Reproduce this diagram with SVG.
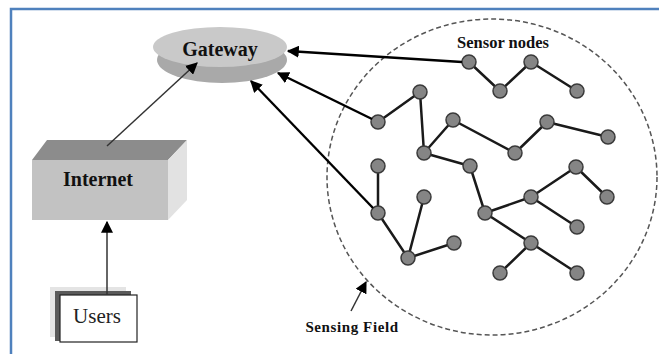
<svg xmlns="http://www.w3.org/2000/svg" width="659" height="354" viewBox="0 0 659 354">
  <defs>
    <marker id="head" viewBox="0 0 10 10" refX="9" refY="5" markerWidth="5" markerHeight="5" markerUnits="strokeWidth" orient="auto">
      <path d="M0,0 L10,5 L0,10 z" fill="#000"/>
    </marker>
    <marker id="headThin" viewBox="0 0 10 10" refX="9" refY="5" markerWidth="8" markerHeight="8" markerUnits="strokeWidth" orient="auto">
      <path d="M0,0 L10,5 L0,10 z" fill="#000"/>
    </marker>
  </defs>
  <style>
    .frame { stroke: #4f81bd; stroke-width: 2.5; fill: none; }
    .link { stroke: #1a1a1a; stroke-width: 2.5; stroke-linecap: round; fill: none; }
    .sensor { fill: #858585; stroke: #3a3a3a; stroke-width: 1.5; }
    .uplink { stroke: #000; stroke-width: 2.4; fill: none; marker-end: url(#head); }
    .thin { stroke: #333; stroke-width: 1.5; fill: none; marker-end: url(#headThin); }
    .bold { font-family: "Liberation Serif", "Times New Roman", serif; font-weight: bold; fill: #111; }
    .plain { font-family: "Liberation Serif", "Times New Roman", serif; fill: #222; }
  </style>

  <rect width="659" height="354" fill="#fff"/>
  <!-- page frame -->
  <path class="frame" d="M11,354 L11,9 L659,9"/>

  <!-- sensing field boundary -->
  <g id="sensing-field">
    <ellipse cx="492" cy="177" rx="165" ry="158" fill="none" stroke="#555" stroke-width="1.5" stroke-dasharray="5 3"/>
    <text class="bold" x="352" y="332" font-size="15" text-anchor="middle" letter-spacing="0.6">Sensing Field</text>
  </g>

  <!-- links between sensor nodes -->
  <g id="sensor-links">
    <line class="link" x1="469" y1="62" x2="500" y2="91"/>
    <line class="link" x1="500" y1="91" x2="531" y2="62"/>
    <line class="link" x1="531" y1="62" x2="577" y2="91"/>
    <line class="link" x1="378" y1="122" x2="420" y2="92"/>
    <line class="link" x1="420" y1="92" x2="424" y2="153"/>
    <line class="link" x1="424" y1="153" x2="453" y2="120"/>
    <line class="link" x1="453" y1="120" x2="515" y2="153"/>
    <line class="link" x1="515" y1="153" x2="547" y2="122"/>
    <line class="link" x1="547" y1="122" x2="608" y2="137"/>
    <line class="link" x1="424" y1="153" x2="470" y2="166"/>
    <line class="link" x1="470" y1="166" x2="485" y2="213"/>
    <line class="link" x1="485" y1="213" x2="531" y2="197"/>
    <line class="link" x1="531" y1="197" x2="576" y2="167"/>
    <line class="link" x1="576" y1="167" x2="607" y2="197"/>
    <line class="link" x1="531" y1="197" x2="577" y2="227"/>
    <line class="link" x1="485" y1="213" x2="531" y2="243"/>
    <line class="link" x1="531" y1="243" x2="500" y2="273"/>
    <line class="link" x1="531" y1="243" x2="577" y2="273"/>
    <line class="link" x1="378" y1="166" x2="378" y2="213"/>
    <line class="link" x1="378" y1="213" x2="408" y2="258"/>
    <line class="link" x1="408" y1="258" x2="424" y2="197"/>
    <line class="link" x1="408" y1="258" x2="454" y2="243"/>
  </g>

  <!-- gateway disc -->
  <g id="gateway">
    <ellipse cx="222" cy="60" rx="65" ry="23" fill="#a9a9a9"/>
    <ellipse cx="220" cy="47" rx="67" ry="20" fill="#c9c9c9"/>
    <text class="bold" x="220" y="56" font-size="20" text-anchor="middle">Gateway</text>
  </g>

  <!-- internet block -->
  <g id="internet">
    <polygon points="32,160 47,140 187,140 168,160" fill="#8c8c8c"/>
    <polygon points="168,160 187,140 187,200 168,220" fill="#e2e2e2"/>
    <rect x="32" y="160" width="136" height="60" fill="#c2c2c2"/>
    <text class="bold" x="98" y="186" font-size="20" text-anchor="middle">Internet</text>
  </g>

  <!-- users stack -->
  <g id="users">
    <rect x="50" y="287" width="76" height="50" fill="#e4e4e4"/>
    <rect x="55" y="291" width="76" height="50" fill="#5a5a5a"/>
    <rect x="60" y="295" width="77" height="47" fill="#fff" stroke="#222" stroke-width="1.2"/>
    <text class="plain" x="97" y="323" font-size="21" text-anchor="middle">Users</text>
  </g>

  <!-- sensor nodes -->
  <g id="sensor-nodes">
    <text class="bold" x="503" y="48" font-size="16.5" text-anchor="middle">Sensor nodes</text>
    <circle class="sensor" cx="469" cy="62" r="7"/>
    <circle class="sensor" cx="531" cy="62" r="7"/>
    <circle class="sensor" cx="500" cy="91" r="7"/>
    <circle class="sensor" cx="577" cy="91" r="7"/>
    <circle class="sensor" cx="420" cy="92" r="7"/>
    <circle class="sensor" cx="378" cy="122" r="7"/>
    <circle class="sensor" cx="453" cy="120" r="7"/>
    <circle class="sensor" cx="547" cy="122" r="7"/>
    <circle class="sensor" cx="608" cy="137" r="7"/>
    <circle class="sensor" cx="424" cy="153" r="7"/>
    <circle class="sensor" cx="515" cy="153" r="7"/>
    <circle class="sensor" cx="378" cy="166" r="7"/>
    <circle class="sensor" cx="470" cy="166" r="7"/>
    <circle class="sensor" cx="576" cy="167" r="7"/>
    <circle class="sensor" cx="378" cy="213" r="7"/>
    <circle class="sensor" cx="424" cy="197" r="7"/>
    <circle class="sensor" cx="485" cy="213" r="7"/>
    <circle class="sensor" cx="531" cy="197" r="7"/>
    <circle class="sensor" cx="607" cy="197" r="7"/>
    <circle class="sensor" cx="577" cy="227" r="7"/>
    <circle class="sensor" cx="408" cy="258" r="7"/>
    <circle class="sensor" cx="454" cy="243" r="7"/>
    <circle class="sensor" cx="531" cy="243" r="7"/>
    <circle class="sensor" cx="500" cy="273" r="7"/>
    <circle class="sensor" cx="577" cy="273" r="7"/>
  </g>

  <!-- connectors -->
  <g id="connectors">
    <!-- sink links to gateway -->
    <line class="uplink" x1="462" y1="62" x2="288" y2="51"/>
    <line class="uplink" x1="372" y1="119" x2="278" y2="73"/>
    <line class="uplink" x1="373" y1="208" x2="251" y2="81"/>
    <!-- wired path -->
    <line class="thin" x1="107" y1="146" x2="197" y2="63"/>
    <line class="thin" x1="107" y1="295" x2="107" y2="222"/>
    <!-- label pointer -->
    <line class="thin" x1="351" y1="311" x2="366" y2="282"/>
  </g>
</svg>
